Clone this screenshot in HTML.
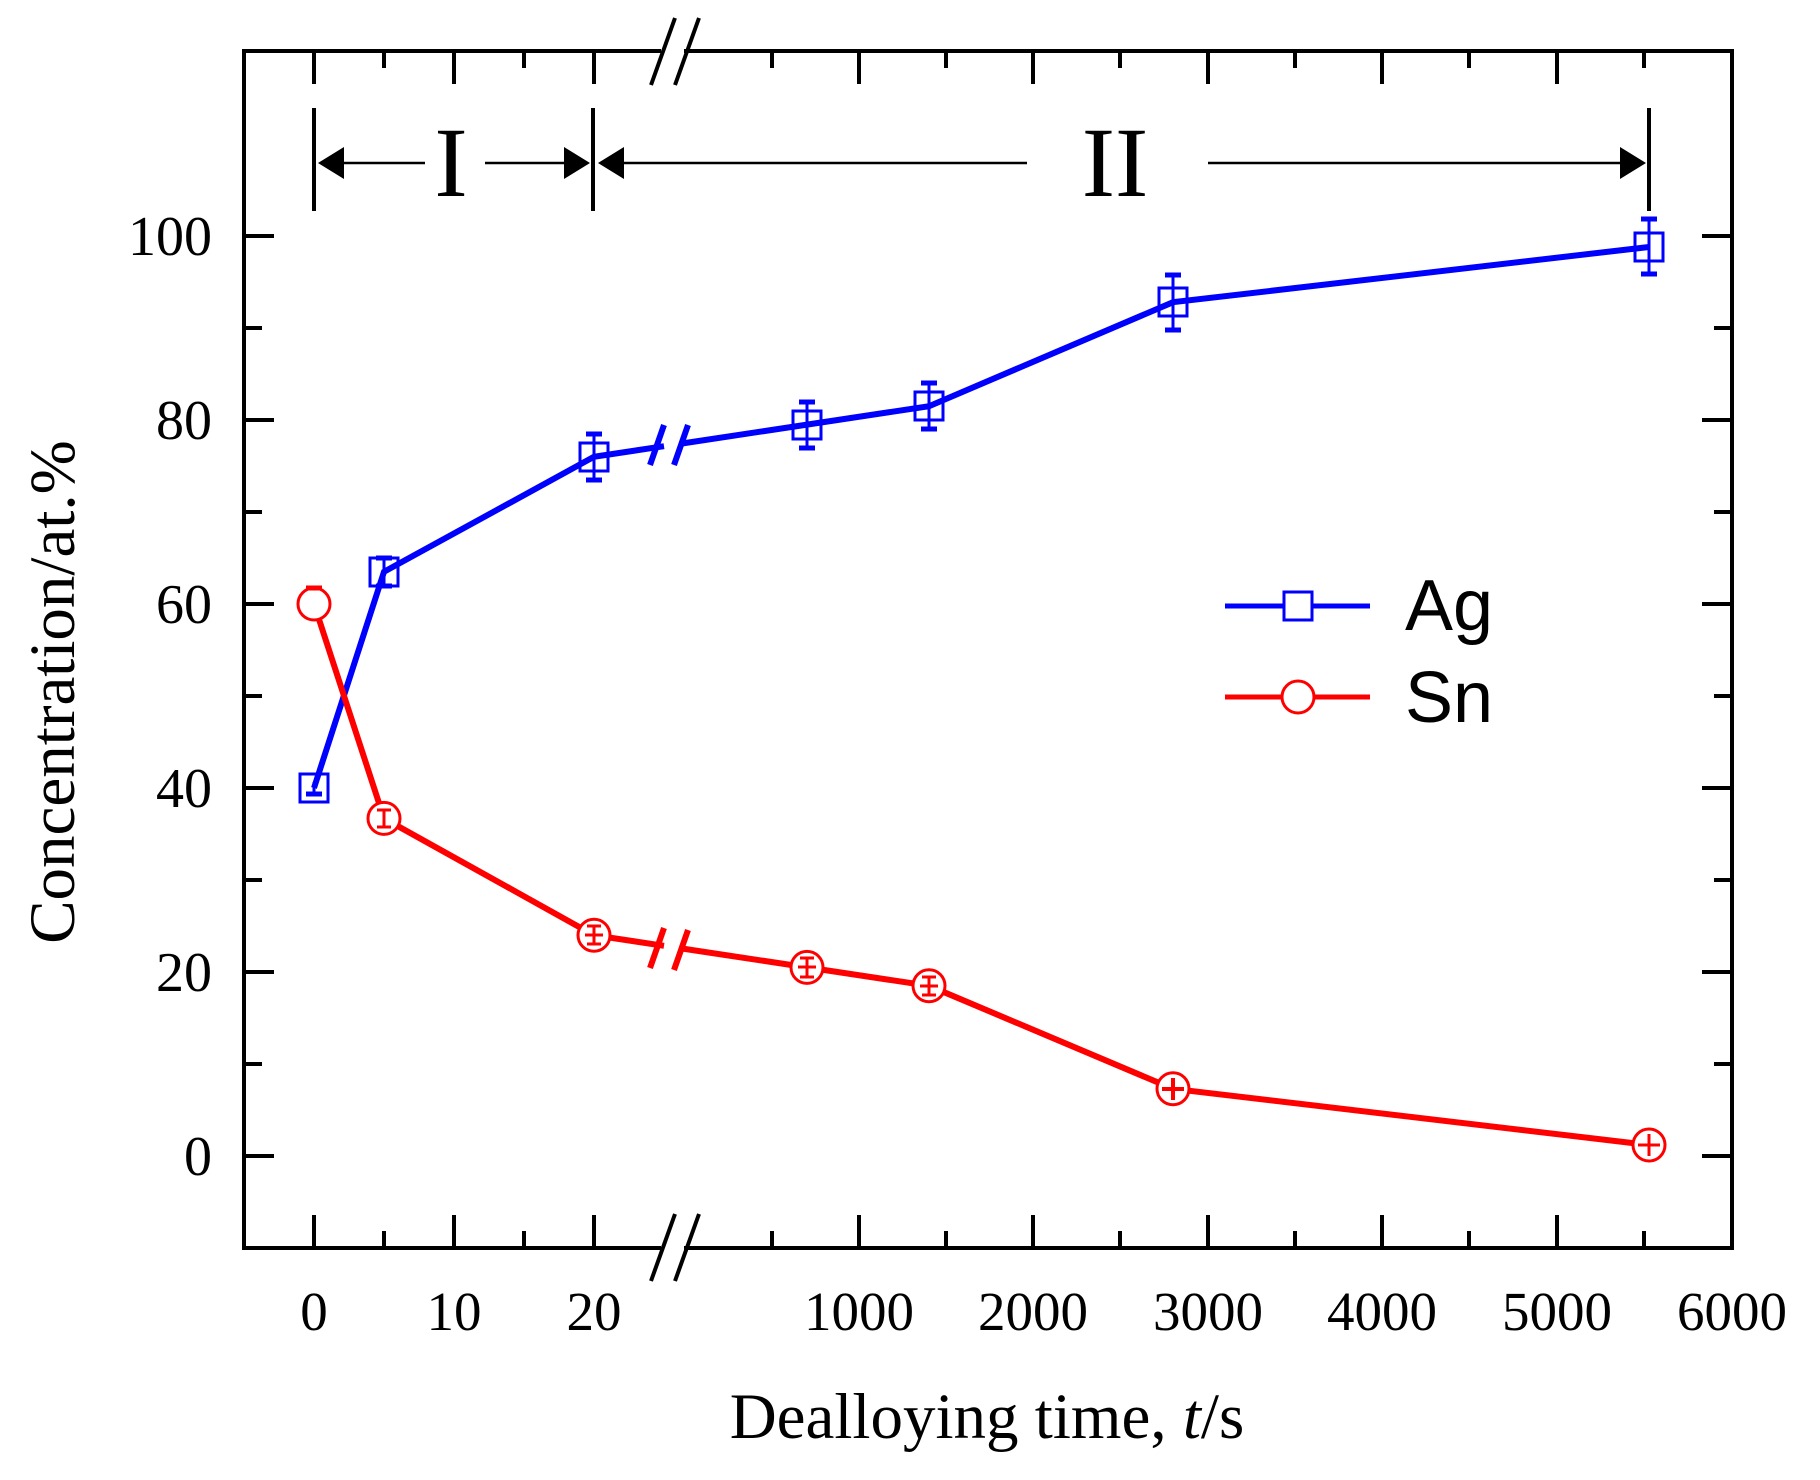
<!DOCTYPE html>
<html><head><meta charset="utf-8"><style>html,body{margin:0;padding:0;background:#fff}svg{display:block}</style></head>
<body>
<svg width="1820" height="1480" viewBox="0 0 1820 1480" xmlns="http://www.w3.org/2000/svg">
<!-- frame -->
<g stroke="#000" stroke-width="4" fill="none">
<line x1="244" y1="51" x2="244" y2="1248"/>
<line x1="1732" y1="51" x2="1732" y2="1248"/>
<line x1="242" y1="51" x2="661" y2="51"/>
<line x1="684" y1="51" x2="1734" y2="51"/>
<line x1="242" y1="1248" x2="661" y2="1248"/>
<line x1="684" y1="1248" x2="1734" y2="1248"/>
</g>
<g stroke="#000" stroke-width="4">
<line x1="651" y1="85" x2="675" y2="18"/><line x1="675" y1="85" x2="699" y2="18"/>
<line x1="651" y1="1281" x2="675" y2="1214"/><line x1="675" y1="1281" x2="699" y2="1214"/>
</g>
<g stroke="#000" stroke-width="4">
<line x1="314" y1="1248" x2="314" y2="1215"/><line x1="314" y1="51" x2="314" y2="84"/>
<line x1="384" y1="1248" x2="384" y2="1231"/><line x1="384" y1="51" x2="384" y2="68"/>
<line x1="454" y1="1248" x2="454" y2="1215"/><line x1="454" y1="51" x2="454" y2="84"/>
<line x1="524" y1="1248" x2="524" y2="1231"/><line x1="524" y1="51" x2="524" y2="68"/>
<line x1="594" y1="1248" x2="594" y2="1215"/><line x1="594" y1="51" x2="594" y2="84"/>
<line x1="772" y1="1248" x2="772" y2="1231"/><line x1="772" y1="51" x2="772" y2="68"/>
<line x1="859" y1="1248" x2="859" y2="1215"/><line x1="859" y1="51" x2="859" y2="84"/>
<line x1="946" y1="1248" x2="946" y2="1231"/><line x1="946" y1="51" x2="946" y2="68"/>
<line x1="1033" y1="1248" x2="1033" y2="1215"/><line x1="1033" y1="51" x2="1033" y2="84"/>
<line x1="1120" y1="1248" x2="1120" y2="1231"/><line x1="1120" y1="51" x2="1120" y2="68"/>
<line x1="1208" y1="1248" x2="1208" y2="1215"/><line x1="1208" y1="51" x2="1208" y2="84"/>
<line x1="1295" y1="1248" x2="1295" y2="1231"/><line x1="1295" y1="51" x2="1295" y2="68"/>
<line x1="1382" y1="1248" x2="1382" y2="1215"/><line x1="1382" y1="51" x2="1382" y2="84"/>
<line x1="1469" y1="1248" x2="1469" y2="1231"/><line x1="1469" y1="51" x2="1469" y2="68"/>
<line x1="1557" y1="1248" x2="1557" y2="1215"/><line x1="1557" y1="51" x2="1557" y2="84"/>
<line x1="1644" y1="1248" x2="1644" y2="1231"/><line x1="1644" y1="51" x2="1644" y2="68"/>
</g>
<g stroke="#000" stroke-width="4">
<line x1="244" y1="1156" x2="274" y2="1156"/><line x1="1732" y1="1156" x2="1702" y2="1156"/>
<line x1="244" y1="1064" x2="262" y2="1064"/><line x1="1732" y1="1064" x2="1714" y2="1064"/>
<line x1="244" y1="972" x2="274" y2="972"/><line x1="1732" y1="972" x2="1702" y2="972"/>
<line x1="244" y1="880" x2="262" y2="880"/><line x1="1732" y1="880" x2="1714" y2="880"/>
<line x1="244" y1="788" x2="274" y2="788"/><line x1="1732" y1="788" x2="1702" y2="788"/>
<line x1="244" y1="696" x2="262" y2="696"/><line x1="1732" y1="696" x2="1714" y2="696"/>
<line x1="244" y1="604" x2="274" y2="604"/><line x1="1732" y1="604" x2="1702" y2="604"/>
<line x1="244" y1="512" x2="262" y2="512"/><line x1="1732" y1="512" x2="1714" y2="512"/>
<line x1="244" y1="420" x2="274" y2="420"/><line x1="1732" y1="420" x2="1702" y2="420"/>
<line x1="244" y1="328" x2="262" y2="328"/><line x1="1732" y1="328" x2="1714" y2="328"/>
<line x1="244" y1="236" x2="274" y2="236"/><line x1="1732" y1="236" x2="1702" y2="236"/>
</g>
<g font-family="Liberation Serif, serif" font-size="56" fill="#000" text-anchor="end">
<text x="212" y="1175">0</text>
<text x="212" y="991">20</text>
<text x="212" y="807">40</text>
<text x="212" y="623">60</text>
<text x="212" y="439">80</text>
<text x="212" y="255">100</text>
</g>
<g font-family="Liberation Serif, serif" font-size="55" fill="#000" text-anchor="middle">
<text x="314" y="1330">0</text>
<text x="454" y="1330">10</text>
<text x="594" y="1330">20</text>
<text x="859" y="1330">1000</text>
<text x="1033" y="1330">2000</text>
<text x="1208" y="1330">3000</text>
<text x="1382" y="1330">4000</text>
<text x="1557" y="1330">5000</text>
<text x="1732" y="1330">6000</text>
</g>
<text x="987" y="1438" font-family="Liberation Serif, serif" font-size="65" text-anchor="middle">Dealloying time, <tspan font-style="italic">t</tspan>/s</text>
<text transform="translate(74,692) rotate(-90)" font-family="Liberation Serif, serif" font-size="65" text-anchor="middle">Concentration/at.%</text>
<g stroke="#000" stroke-width="4">
<line x1="314" y1="108" x2="314" y2="211"/>
<line x1="593" y1="108" x2="593" y2="211"/>
<line x1="1649" y1="108" x2="1649" y2="211"/>
</g>
<g stroke="#000" stroke-width="2.5">
<line x1="330" y1="163" x2="425" y2="163"/>
<line x1="485" y1="163" x2="575" y2="163"/>
<line x1="612" y1="163" x2="1027" y2="163"/>
<line x1="1208" y1="163" x2="1630" y2="163"/>
</g>
<g fill="#000">
<polygon points="318,163 344,147 344,179"/>
<polygon points="590,163 564,147 564,179"/>
<polygon points="598,163 624,147 624,179"/>
<polygon points="1646,163 1620,147 1620,179"/>
</g>
<text x="451" y="196" font-family="Liberation Serif, serif" font-size="100" text-anchor="middle">I</text>
<text x="1115" y="196" font-family="Liberation Serif, serif" font-size="100" text-anchor="middle">II</text>
<g stroke="#0000ff" stroke-width="6" fill="none">
<polyline points="314,788 384,571.8 594,456.8 664,446.2"/>
<polyline points="682,443.5 807,424.6 929,406.2 1173,302.2 1649,247"/>
<line x1="650" y1="465" x2="664" y2="425"/><line x1="674" y1="465" x2="688" y2="425"/>
</g>
<g stroke="#ff0000" stroke-width="6" fill="none">
<polyline points="314,604 384,818.4 594,935.2 664,945.8"/>
<polyline points="682,948.5 807,967.4 929,985.8 1173,1088.8 1649,1145"/>
<line x1="650" y1="968" x2="664" y2="928"/><line x1="674" y1="970" x2="688" y2="930"/>
</g>
<g stroke="#0000ff" stroke-width="3" fill="#fff">
<line x1="314" y1="782" x2="314" y2="794"/>
<line x1="384" y1="558" x2="384" y2="586"/>
<line x1="594" y1="434" x2="594" y2="480"/>
<line x1="807" y1="402" x2="807" y2="448"/>
<line x1="929" y1="383" x2="929" y2="429"/>
<line x1="1173" y1="275" x2="1173" y2="330"/>
<line x1="1649" y1="219" x2="1649" y2="274"/>
<g stroke-width="5">
<line x1="306" y1="794" x2="322" y2="794"/>
<line x1="376" y1="558" x2="392" y2="558"/><line x1="376" y1="586" x2="392" y2="586"/>
<line x1="586" y1="434" x2="602" y2="434"/><line x1="586" y1="480" x2="602" y2="480"/>
<line x1="799" y1="402" x2="815" y2="402"/><line x1="799" y1="448" x2="815" y2="448"/>
<line x1="921" y1="383" x2="937" y2="383"/><line x1="921" y1="429" x2="937" y2="429"/>
<line x1="1165" y1="275" x2="1181" y2="275"/><line x1="1165" y1="330" x2="1181" y2="330"/>
<line x1="1641" y1="219" x2="1657" y2="219"/><line x1="1641" y1="274" x2="1657" y2="274"/>
</g>
<g fill="none">
<rect x="300" y="774" width="28" height="28"/>
<rect x="370" y="558" width="28" height="28"/>
<rect x="580" y="443" width="28" height="28"/>
<rect x="793" y="411" width="28" height="28"/>
<rect x="915" y="392" width="28" height="28"/>
<rect x="1159" y="288" width="28" height="28"/>
<rect x="1635" y="233" width="28" height="28"/>
</g>
</g>
<g stroke="#ff0000" stroke-width="3" fill="#fff">
<circle cx="314" cy="604" r="16"/>
<circle cx="384" cy="818.4" r="16"/>
<circle cx="594" cy="935.2" r="16"/>
<circle cx="807" cy="967.4" r="16"/>
<circle cx="929" cy="985.8" r="16"/>
<circle cx="1173" cy="1088.8" r="16"/>
<circle cx="1649" cy="1145" r="16"/>
<line x1="306" y1="588" x2="322" y2="588" stroke-width="5"/>
<line x1="384" y1="810" x2="384" y2="827"/><line x1="377" y1="810" x2="391" y2="810"/><line x1="377" y1="827" x2="391" y2="827"/>
<line x1="594" y1="926" x2="594" y2="944"/><line x1="587" y1="926" x2="601" y2="926"/><line x1="587" y1="944" x2="601" y2="944"/><line x1="585" y1="935" x2="603" y2="935"/>
<line x1="807" y1="958" x2="807" y2="977"/><line x1="800" y1="958" x2="814" y2="958"/><line x1="800" y1="977" x2="814" y2="977"/><line x1="798" y1="967" x2="816" y2="967"/>
<line x1="929" y1="977" x2="929" y2="995"/><line x1="922" y1="977" x2="936" y2="977"/><line x1="922" y1="995" x2="936" y2="995"/><line x1="920" y1="986" x2="938" y2="986"/>
<line x1="1173" y1="1078" x2="1173" y2="1100" stroke-width="4"/><line x1="1162" y1="1089" x2="1184" y2="1089" stroke-width="4"/>
<line x1="1649" y1="1134" x2="1649" y2="1156"/><line x1="1638" y1="1145" x2="1660" y2="1145"/>
</g>
<g stroke-width="5" fill="#fff">
<line x1="1225" y1="606" x2="1284" y2="606" stroke="#0000ff"/>
<line x1="1312" y1="606" x2="1370" y2="606" stroke="#0000ff"/>
<rect x="1284" y="592" width="28" height="28" stroke="#0000ff" stroke-width="3"/>
<line x1="1225" y1="697" x2="1282" y2="697" stroke="#ff0000"/>
<line x1="1314" y1="697" x2="1370" y2="697" stroke="#ff0000"/>
<circle cx="1298" cy="697" r="16" stroke="#ff0000" stroke-width="3"/>
</g>
<g font-family="Liberation Sans, sans-serif" font-size="72" fill="#000">
<text x="1405" y="630">Ag</text>
<text x="1405" y="722">Sn</text>
</g>
</svg>
</body></html>
